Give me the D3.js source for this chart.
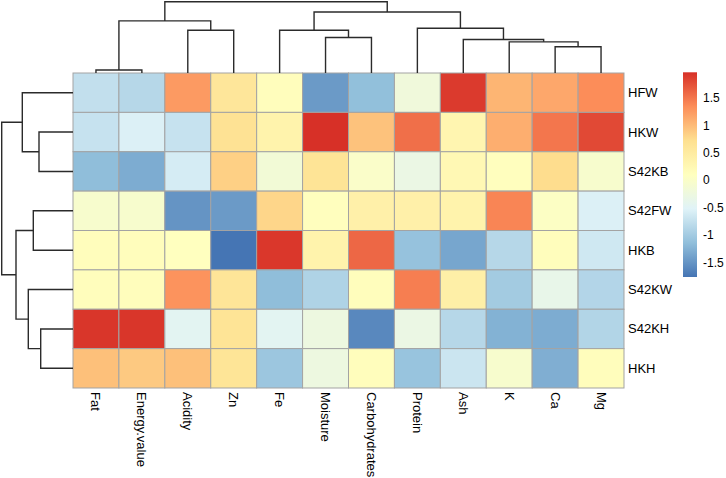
<!DOCTYPE html>
<html>
<head>
<meta charset="utf-8">
<script src="https://cdn.jsdelivr.net/npm/d3@7"></script>
<style>
  html, body { margin: 0; padding: 0; background: #ffffff; }
  svg { display: block; }
  text { font-family: "Liberation Sans", Arial, sans-serif; fill: #000; }
</style>
</head>
<body>
<svg id="chart" width="726" height="478"></svg>
<script>
// ---------------- DATA ----------------
const colLabels = ["Fat", "Energy.value", "Acidity", "Zn", "Fe", "Moisture",
                   "Carbohydrates", "Protein", "Ash", "K", "Ca", "Mg"];
const rowLabels = ["HFW", "HKW", "S42KB", "S42FW", "HKB", "S42KW", "S42KH", "HKH"];

// scaled values, one array per row (same order as colLabels)
const valHFW   = [-0.75, -0.85,  1.25,  0.60,  0.15, -1.45, -1.13, -0.20,  1.90,  1.05,  1.15,  1.35];
const valHKW   = [-0.72, -0.55, -0.72,  0.68,  0.35,  1.97,  0.95,  1.55,  0.30,  1.10,  1.50,  1.80];
const valS42KB = [-1.15, -1.30, -0.60,  0.85, -0.15,  0.65,  0.00, -0.30,  0.25,  0.12,  0.75, -0.05];
const valS42FW = [-0.05, -0.05, -1.50, -1.45,  0.80,  0.12,  0.40,  0.40,  0.35,  1.40,  0.05, -0.55];
const valHKB   = [ 0.15,  0.15,  0.10, -1.76,  1.92,  0.35,  1.60, -1.10, -1.35, -0.85,  0.15, -0.65];
const valS42KW = [ 0.15,  0.15,  1.30,  0.62, -1.15, -0.90,  0.15,  1.45,  0.42, -1.00, -0.35, -0.87];
const valS42KH = [ 1.93,  1.93, -0.45,  0.65, -0.45, -0.25, -1.60, -0.30, -0.85, -1.25, -1.30, -0.88];
const valHKH   = [ 0.97,  0.90,  0.97,  0.63, -1.05, -0.25,  0.15, -1.08, -0.68, -0.05, -1.28,  0.15];
const values = [valHFW, valHKW, valS42KB, valS42FW, valHKB, valS42KW, valS42KH, valHKH];

// hierarchical clustering merges: [id, left, right, height]
const colMerges = [
  ["c1", "Fat", "Energy.value", 3.0],
  ["c2", "Acidity", "Zn", 43.0],
  ["c3", "c1", "c2", 52.3],
  ["c4", "Moisture", "Carbohydrates", 35.6],
  ["c5", "Fe", "c4", 43.0],
  ["c6", "Ca", "Mg", 26.3],
  ["c7", "K", "c6", 31.3],
  ["c8", "Ash", "c7", 33.6],
  ["c9", "Protein", "c8", 45.0],
  ["c10", "c5", "c9", 61.3],
  ["c11", "c3", "c10", 71.6]
];
const rowMerges = [
  ["r1", "HKW", "S42KB", 34.0],
  ["r2", "HFW", "r1", 50.7],
  ["r3", "S42FW", "HKB", 39.7],
  ["r4", "S42KH", "HKH", 32.3],
  ["r5", "S42KW", "r4", 44.7],
  ["r6", "r3", "r5", 57.0],
  ["r7", "r2", "r6", 71.3]
];

const legendTicks = [-1.5, -1, -0.5, 0, 0.5, 1, 1.5];
const paletteStops = ["#4575b4", "#91bfdb", "#e0f3f8", "#ffffbf", "#fee090", "#fc8d59", "#d73027"];

// ---------------- LAYOUT ----------------
const svg = d3.select("#chart");
const gridL = 73, gridR = 624, gridT = 73, gridB = 388;

const x = d3.scaleBand().domain(colLabels).range([gridL, gridR]).padding(0);
const y = d3.scaleBand().domain(rowLabels).range([gridT, gridB]).padding(0);

const allVals = values.flat();
const ext = d3.extent(allVals);
const color = d3.scaleLinear()
  .domain(paletteStops.map((_, i) => ext[0] + (ext[1] - ext[0]) * i / (paletteStops.length - 1)))
  .range(paletteStops)
  .interpolate(d3.interpolateRgb);

// ---------------- CELLS ----------------
const cells = [];
values.forEach((row, i) => row.forEach((v, j) => cells.push({ r: rowLabels[i], c: colLabels[j], v })));

svg.append("g").selectAll("rect").data(cells).join("rect")
  .attr("x", d => x(d.c))
  .attr("y", d => y(d.r))
  .attr("width", x.bandwidth())
  .attr("height", y.bandwidth())
  .attr("fill", d => color(d.v))
  .attr("stroke", "#a3a3a3")
  .attr("stroke-width", 1);

// ---------------- DENDROGRAMS ----------------
function buildTree(merges, leaves, posScale) {
  const nodes = {};
  leaves.forEach(l => nodes[l] = { pos: posScale(l) + posScale.bandwidth() / 2, h: 0 });
  const segs = [];
  merges.forEach(([id, a, b, h]) => {
    const A = nodes[a], B = nodes[b];
    nodes[id] = { pos: (A.pos + B.pos) / 2, h };
    segs.push({ a: A, b: B, h });
  });
  return segs;
}

// column tree (top)
const colH = d3.scaleLinear().domain([0, d3.max(colMerges, d => d[3])]).range([gridT, 1.7]);
const colSegs = buildTree(colMerges, colLabels, x);
svg.append("g").selectAll("path").data(colSegs).join("path")
  .attr("d", s => `M${s.a.pos},${colH(s.a.h)}V${colH(s.h)}H${s.b.pos}V${colH(s.b.h)}`)
  .attr("fill", "none")
  .attr("stroke", "#2b2b2b")
  .attr("stroke-width", 1.4);

// row tree (left)
const rowH = d3.scaleLinear().domain([0, d3.max(rowMerges, d => d[3])]).range([gridL, 1.7]);
const rowSegs = buildTree(rowMerges, rowLabels, y);
svg.append("g").selectAll("path").data(rowSegs).join("path")
  .attr("d", s => `M${rowH(s.a.h)},${s.a.pos}H${rowH(s.h)}V${s.b.pos}H${rowH(s.b.h)}`)
  .attr("fill", "none")
  .attr("stroke", "#2b2b2b")
  .attr("stroke-width", 1.4);

// ---------------- LABELS ----------------
svg.append("g").selectAll("text").data(rowLabels).join("text")
  .attr("x", gridR + 4)
  .attr("y", d => y(d) + y.bandwidth() / 2)
  .attr("dominant-baseline", "central")
  .attr("font-size", 13)
  .text(d => d);

svg.append("g").selectAll("text").data(colLabels).join("text")
  .attr("transform", d => `translate(${x(d) + x.bandwidth() / 2},${gridB + 4}) rotate(90)`)
  .attr("dominant-baseline", "central")
  .attr("text-anchor", "start")
  .attr("font-size", 13)
  .text(d => d);

// ---------------- LEGEND ----------------
const legX = 683, legW = 14, legT = 72.3, legB = 277;
const legScale = d3.scaleLinear().domain(ext).range([legB, legT]);
const defs = svg.append("defs");
const grad = defs.append("linearGradient").attr("id", "legGrad")
  .attr("x1", 0).attr("y1", 1).attr("x2", 0).attr("y2", 0);
paletteStops.forEach((c, i) => grad.append("stop")
  .attr("offset", i / (paletteStops.length - 1))
  .attr("stop-color", c));
svg.append("rect")
  .attr("x", legX).attr("y", legT)
  .attr("width", legW).attr("height", legB - legT)
  .attr("fill", "url(#legGrad)");

svg.append("g").selectAll("text").data(legendTicks).join("text")
  .attr("x", legX + legW + 6)
  .attr("y", d => legScale(d))
  .attr("dominant-baseline", "central")
  .attr("font-size", 12)
  .text(d => String(d));
</script>
</body>
</html>
